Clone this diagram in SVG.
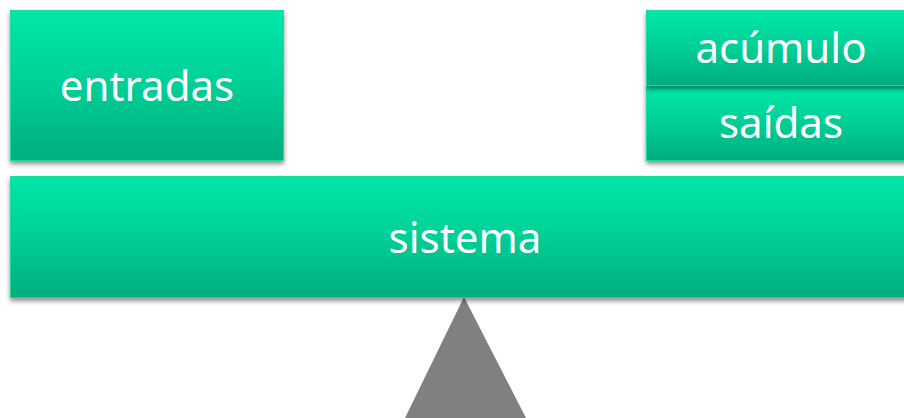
<svg xmlns="http://www.w3.org/2000/svg" width="904" height="418" viewBox="0 0 904 418">
  <defs>
    <linearGradient id="g" x1="0" y1="0" x2="0" y2="1">
      <stop offset="0" stop-color="#00E8A9"/>
      <stop offset="0.5" stop-color="#00CF96"/>
      <stop offset="1" stop-color="#00AD7F"/>
    </linearGradient>
    <filter id="sh" x="-5%" y="-10%" width="110%" height="130%">
      <feGaussianBlur in="SourceAlpha" stdDeviation="2.5"/>
      <feOffset dx="0" dy="3" result="b"/>
      <feComponentTransfer><feFuncA type="linear" slope="0.45"/></feComponentTransfer>
      <feMerge><feMergeNode/><feMergeNode in="SourceGraphic"/></feMerge>
    </filter>
  </defs>
  <style>
    .box { fill: url(#g); stroke: #1FD9A0; stroke-width: 1; filter: url(#sh); }
    .lbl { font-family: "Comic Sans MS", "Noto Sans", "DejaVu Sans", sans-serif; font-size: 42px; fill: #FFFFFF; text-anchor: middle; }
  </style>
  <rect width="904" height="418" fill="#FFFFFF"/>
  <g id="fulcrum">
    <polygon points="464,297 405,418 526,418" fill="#808080"/>
  </g>
  <g id="entradas">
    <rect class="box" x="10.5" y="10.5" width="273" height="150"/>
    <text class="lbl" x="147" y="101">entradas</text>
  </g>
  <g id="sistema">
    <rect class="box" x="10.5" y="176.5" width="900" height="121"/>
    <text class="lbl" x="465" y="253">sistema</text>
  </g>
  <g id="saidas">
    <rect class="box" x="646.5" y="85.5" width="265" height="75"/>
    <text class="lbl" x="781" y="138">saídas</text>
  </g>
  <g id="acumulo">
    <rect class="box" x="646.5" y="10.5" width="265" height="75"/>
    <text class="lbl" x="781" y="63">acúmulo</text>
  </g>
  <g id="connectors"></g>
</svg>
